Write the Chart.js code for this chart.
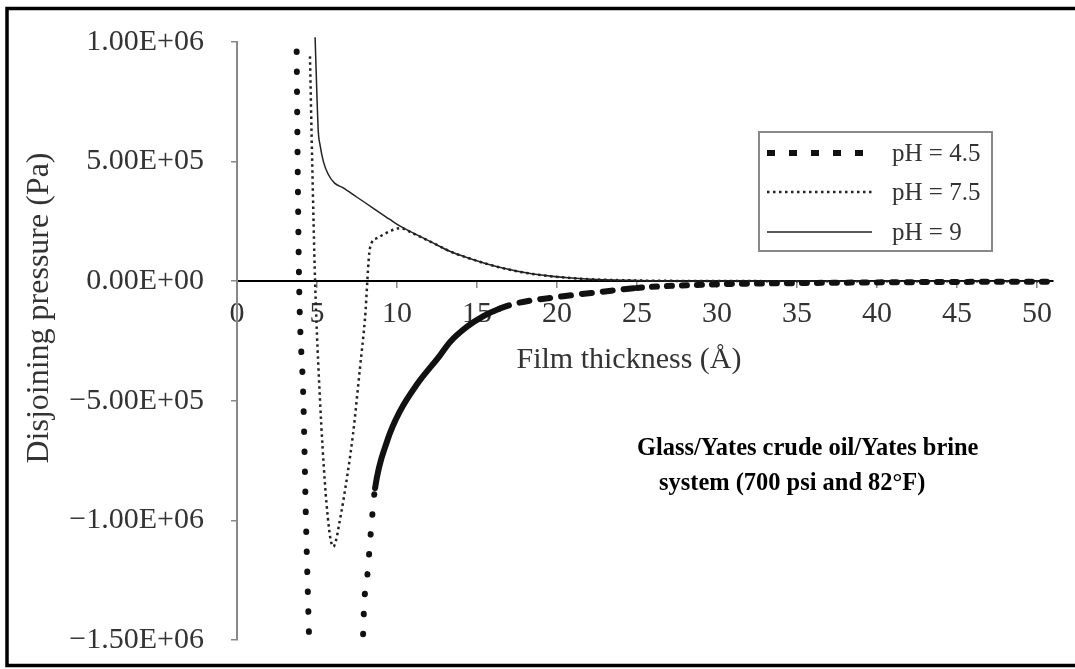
<!DOCTYPE html>
<html>
<head>
<meta charset="utf-8">
<title>Disjoining pressure</title>
<script src="https://cdn.jsdelivr.net/npm/chart.js@4.4.0/dist/chart.umd.min.js"></script>
<style>
    html, body { margin: 0; padding: 0; background: #ffffff; }
    #chart_wrap { position: relative; width: 1075px; height: 669px; }
</style>
</head>
<body>
<div id="chart_wrap"><canvas id="disjoining_chart"></canvas></div>
<script>
// film thickness (Å) -> disjoining pressure (Pa), one pair of arrays per brine pH
// null breaks the pH 4.5 curve where it runs below the axis range
const ph45_x = [3.73, 3.79, 3.88, 4.15, 4.31, 4.50, 4.53, 6.20, 7.86, 7.88, 8.19, 8.44, 8.63, 9.38, 10.19,
                11.25, 12.69, 13.30, 14.38, 15.40, 16.40, 17.50, 20.40, 22.70, 25.00, 30.00, 35.00, 40.00, 45.00, 50.80];
const ph45_y = [9.6e5, 5.0e5, 0, -5.0e5, -1.0e6, -1.48e6, -1.56e6, null, -1.56e6, -1.48e6, -1.2e6, -9.9e5, -8.65e5, -6.69e5, -5.43e5,
                -4.31e5, -3.10e5, -2.55e5, -1.90e5, -1.46e5, -1.15e5, -9.2e4, -6.3e4, -4.5e4, -2.8e4, -1.3e4, -8.0e3, -5.0e3, -3.0e3, -2.0e3];

const ph75_x = [4.56, 4.70, 4.88, 5.19, 5.50, 5.68, 5.85, 6.02, 6.20, 6.40, 6.64, 7.25, 7.69, 8.00, 8.31,
                8.75, 9.56, 10.20, 11.00, 12.25, 13.30, 14.40, 16.40, 18.50, 21.60, 25.00, 30.00, 40.00, 50.80];
const ph75_y = [9.4e5, 5.0e5, 0, -5.0e5, -8.5e5, -9.9e5, -1.08e6, -1.11e6, -1.08e6, -1.01e6, -9.2e5, -6.4e5, -3.6e5, -1.55e5, 1.38e5,
                1.8e5, 2.09e5, 2.22e5, 2.0e5, 1.6e5, 1.25e5, 9.8e4, 5.8e4, 3.0e4, 1.0e4, 3.0e3, 8.0e2, 0, 0];

const ph9_x = [4.88, 4.98, 5.08, 5.19, 5.40, 5.70, 6.10, 6.64, 7.48, 8.50, 9.56, 10.20, 11.00, 12.25, 13.30,
               14.40, 16.40, 18.50, 21.60, 25.00, 30.00, 40.00, 50.80];
const ph9_y = [1.02e6, 8.1e5, 6.27e5, 5.7e5, 5.0e5, 4.47e5, 4.1e5, 3.9e5, 3.52e5, 3.06e5, 2.58e5, 2.3e5, 2.02e5, 1.6e5, 1.25e5,
               9.8e4, 5.8e4, 3.0e4, 1.0e4, 3.0e3, 8.0e2, 0, 0];

const series_labels = ['pH = 4.5', 'pH = 7.5', 'pH = 9'];

const y_tick_values = [-1.5e6, -1.0e6, -5.0e5, 0, 5.0e5, 1.0e6];
const y_tick_labels = ['\u22121.50E+06', '\u22121.00E+06', '\u22125.00E+05', '0.00E+00', '5.00E+05', '1.00E+06'];

const x_title = 'Film thickness (\u00c5)';
const y_title = 'Disjoining pressure (Pa)';
const note_lines = ['Glass/Yates crude oil/Yates brine', 'system (700 psi and 82\u00b0F)'];

const serif = '"Liberation Serif", "Times New Roman", serif';

function to_points(xs, ys) {
    return xs.map((x, i) => ({x: x, y: ys[i]}));
}

// pH 4.5: round dots on the steep branches, solid where the curve is densely sampled,
// then broken dashes along the flat tail (round caps lengthen each dash by the line width)
function ph45_dash(ctx) {
    const x0 = ctx.p0.parsed.x;
    if (x0 >= 8.6 && x0 < 16.4) return [];
    if (x0 >= 16.4 && x0 < 25) return [10, 11];
    if (x0 >= 25) return [5, 10];
    return [0.5, 19.5];
}

const legend_styles = [
    {dash: [8, 14], width: 6, cap: 'butt'},
    {dash: [2.5, 3.5], width: 2.5, cap: 'butt'},
    {dash: [], width: 1.5, cap: 'butt'},
];

// frame, axis titles, boxed legend and the system note
const figure_text = {
    id: 'figure_text',
    afterDraw(chart) {
        const ctx = chart.ctx;
        ctx.save();

        ctx.strokeStyle = '#000';
        ctx.lineWidth = 3.5;
        ctx.strokeRect(7, 8.5, 1090, 657);

        ctx.fillStyle = '#333';
        ctx.textBaseline = 'alphabetic';
        ctx.textAlign = 'center';
        ctx.font = '30px ' + serif;
        ctx.fillText(x_title, 629, 368);

        ctx.save();
        ctx.translate(48, 308);
        ctx.rotate(-Math.PI / 2);
        ctx.font = '32px ' + serif;
        ctx.fillText(y_title, 0, 0);
        ctx.restore();

        // legend
        ctx.fillStyle = '#fff';
        ctx.fillRect(759, 132, 233, 119);
        ctx.strokeStyle = '#888';
        ctx.lineWidth = 2;
        ctx.strokeRect(759, 132, 233, 119);
        const rows = [153, 192, 232];
        chart.data.datasets.forEach((ds, i) => {
            const st = legend_styles[i];
            ctx.save();
            ctx.strokeStyle = ds.borderColor;
            ctx.lineWidth = st.width;
            ctx.lineCap = st.cap;
            ctx.setLineDash(st.dash);
            ctx.beginPath();
            ctx.moveTo(767, rows[i]);
            ctx.lineTo(872, rows[i]);
            ctx.stroke();
            ctx.restore();
            ctx.fillStyle = '#333';
            ctx.textAlign = 'left';
            ctx.textBaseline = 'middle';
            ctx.font = '25px ' + serif;
            ctx.fillText(ds.label, 892, rows[i] + 1);
        });

        // bold two-line note, slightly condensed
        ctx.fillStyle = '#000';
        ctx.textAlign = 'left';
        ctx.textBaseline = 'alphabetic';
        ctx.font = 'bold 26px ' + serif;
        ctx.save();
        ctx.translate(637, 455);
        ctx.scale(0.94, 1);
        ctx.fillText(note_lines[0], 0, 0);
        ctx.restore();
        ctx.save();
        ctx.translate(659, 490);
        ctx.scale(0.94, 1);
        ctx.fillText(note_lines[1], 0, 0);
        ctx.restore();

        ctx.restore();
    }
};

const tick_font = {family: serif, size: 30};

// keep the plot box fixed: no extra room reserved for overhanging tick labels
function no_label_padding(scale) {
    scale.paddingTop = 0;
    scale.paddingBottom = 0;
}

const disjoining_chart = new Chart(document.getElementById('disjoining_chart'), {
    type: 'line',
    data: {
        datasets: [
            {
                label: series_labels[0],
                data: to_points(ph45_x, ph45_y),
                borderColor: '#111',
                borderWidth: 6,
                borderCapStyle: 'round',
                segment: {borderDash: ph45_dash},
                spanGaps: false,
            },
            {
                label: series_labels[1],
                data: to_points(ph75_x, ph75_y),
                borderColor: '#222',
                borderWidth: 2.5,
                borderDash: [2.5, 3.5],
            },
            {
                label: series_labels[2],
                data: to_points(ph9_x, ph9_y),
                borderColor: '#222',
                borderWidth: 1.5,
                clip: {left: 2, top: 8, right: 2, bottom: 2},
            },
        ]
    },
    options: {
        responsive: true,
        maintainAspectRatio: false,
        animation: false,
        layout: {padding: {left: 0, top: 42, right: 22, bottom: 29}},
        elements: {
            point: {radius: 0},
            line: {cubicInterpolationMode: 'monotone', fill: false},
        },
        plugins: {
            legend: {display: false},
            tooltip: {enabled: false},
        },
        scales: {
            x: {
                type: 'linear',
                position: {y: 0},
                min: 0,
                max: 51,
                afterFit(scale) {
                    scale.height = 0;
                    no_label_padding(scale);
                },
                ticks: {
                    stepSize: 5,
                    includeBounds: false,
                    autoSkip: false,
                    maxRotation: 0,
                    padding: 9,
                    color: '#333',
                    font: tick_font,
                },
                grid: {drawOnChartArea: false, drawTicks: true, tickLength: 6, color: '#888', lineWidth: 1.5},
                border: {color: '#000', width: 2},
            },
            y: {
                type: 'linear',
                min: -1.5e6,
                max: 1.0e6,
                afterFit(scale) {
                    scale.width = 237;
                    no_label_padding(scale);
                },
                ticks: {
                    stepSize: 5e5,
                    padding: 27,
                    color: '#333',
                    font: tick_font,
                    callback: (v) => {
                        const i = y_tick_values.indexOf(v);
                        return i >= 0 ? y_tick_labels[i] : '';
                    },
                },
                grid: {drawOnChartArea: false, drawTicks: true, tickLength: 6, color: '#888', lineWidth: 1.5},
                border: {color: '#888', width: 2},
            },
        },
    },
    plugins: [figure_text],
});
</script>
</body>
</html>
